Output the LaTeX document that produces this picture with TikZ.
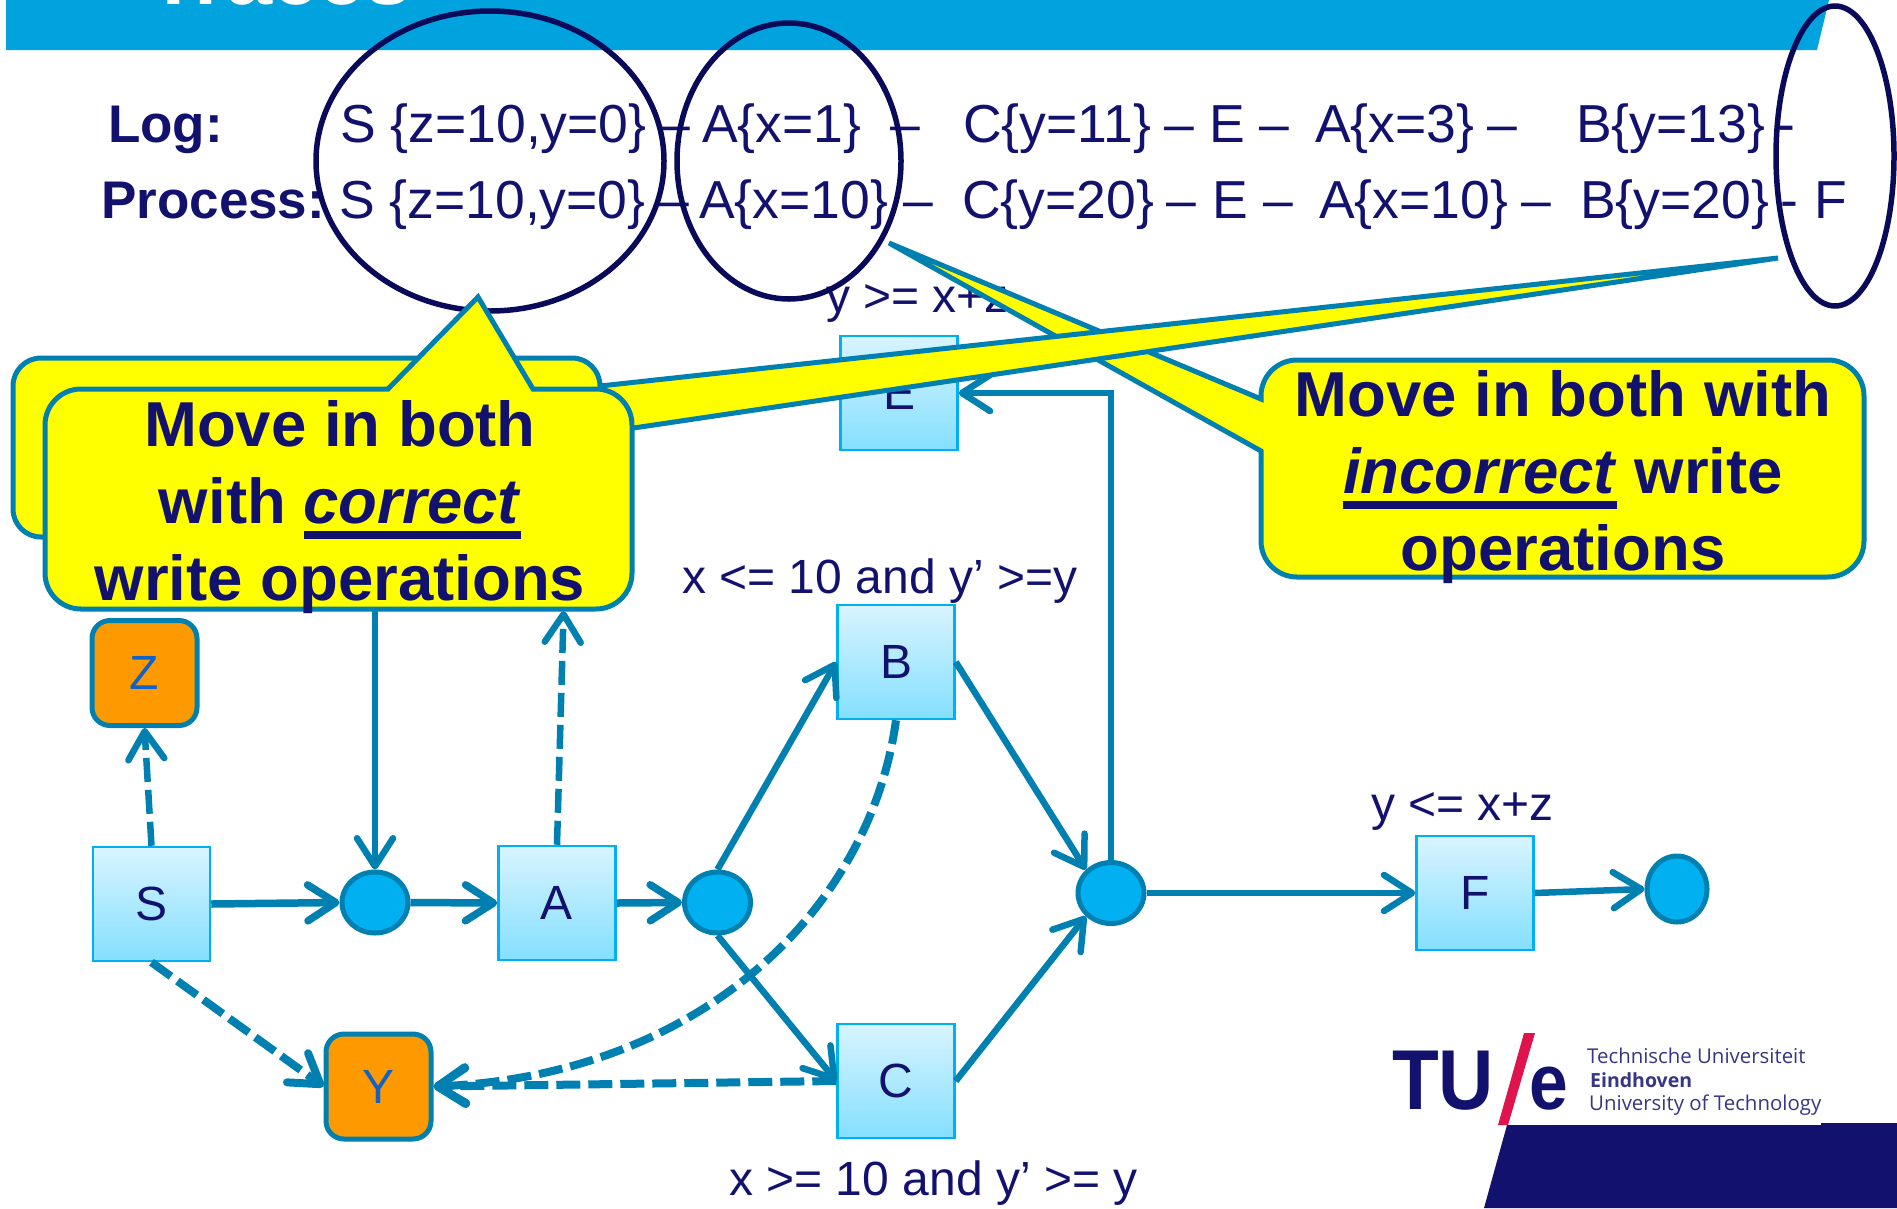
\documentclass[tikz,border=0pt]{standalone}
\usepackage{fontspec}
\setmainfont{Liberation Sans}
\newfontfamily\tuefont{Open Sans}
\usetikzlibrary{arrows.meta,shapes.geometric}
\definecolor{navy}{HTML}{12126E}
\definecolor{banner}{HTML}{00A3DE}
\definecolor{ringc}{HTML}{0A0A5A}
\definecolor{flow}{HTML}{0080B0}
\definecolor{dot}{HTML}{00B0F0}
\definecolor{boxtop}{HTML}{D8F4FF}
\definecolor{boxbot}{HTML}{84DFFF}
\definecolor{orangec}{HTML}{FF9900}
\definecolor{varc}{HTML}{0F62C8}
\definecolor{tuered}{HTML}{E0144C}
\definecolor{notefill}{RGB}{255,255,0}
\newcommand{\fatline}[1]{\setbox0\hbox{#1}\rlap{\rule[-.238em]{\wd0}{.12em}}\box0\relax}
\tikzset{
  tracetext/.style={anchor=base west, inner sep=0pt, text=navy, font=\fontsize{53.5}{60}\selectfont},
  headtext/.style={tracetext, font=\fontsize{53}{60}\selectfont\bfseries},
  guardtext/.style={anchor=base west, inner sep=0pt, text=navy, font=\fontsize{48}{50}\selectfont},
  actbox/.style={draw=dot, line width=2.5pt, top color=boxtop, bottom color=boxbot, minimum width=117pt, minimum height=114pt, inner sep=0pt, text=navy, font=\fontsize{48}{50}\selectfont},
  varbox/.style={draw=flow, line width=5pt, fill=orangec, rounded corners=18pt, minimum width=105pt, minimum height=105pt, inner sep=0pt, text=varc, font=\fontsize{48}{50}\selectfont},
  placedot/.style={draw=flow, line width=5pt, fill=dot, ellipse, inner sep=0pt},
  ring/.style={draw=ringc, line width=5.5pt},
  callout/.style={draw=flow, line width=5pt, fill=notefill},
  callouttext/.style={inner sep=0pt, align=center, text=navy, font=\fontsize{63.5}{77}\selectfont\bfseries},
  flowline/.style={draw=flow, line width=6.5pt, -{Straight Barb[length=28pt,width=36pt,round]}},
  readline/.style={flowline, dash pattern=on 24pt off 8pt},
  tuetext/.style={anchor=base west, inner sep=0pt, text=navy!85, font=\tuefont\fontsize{20.4}{22}\selectfont},
}
\begin{document}
\begin{tikzpicture}[x=1pt,y=-1pt]
\useasboundingbox (0,0) rectangle (1897,1208);
\fill[banner] (6,0) -- (1829,0) -- (1817,50) -- (6,50) -- cycle;
\node[anchor=base west, inner sep=0pt, text=white, font=\fontsize{83}{90}\selectfont\bfseries] (title) at (148,4) {Traces};

\node[headtext] (loghead) at (108,142) {Log:};
\node[headtext] (prochead) at (101,218) {Process:};
\foreach \px/\tx [count=\n] in {340/{S \{z=10,y=0\}},660/–,702/{A\{x=1\}},890/–,963/{C\{y=11\}},1164/–,1209/E,1259/–,1315/{A\{x=3\}},1487/–,1576/{B\{y=13\}},1777/-}
  \node[tracetext] (log\n) at (\px,142) {\tx};
\foreach \px/\tx [count=\n] in {339/{S \{z=10,y=0\}},659/–,699/{A\{x=10\}},903/–,962/{C\{y=20\}},1166/–,1212/E,1263/–,1319/{A\{x=10\}},1521/–,1580/{B\{y=20\}},1780/-,1814/F}
  \node[tracetext] (proc\n) at (\px,218) {\tx};

\node[actbox] (S) at (151.5,904) {S};
\node[actbox] (A) at (557,903) {A};
\node[actbox] (B) at (896,662) {B};
\node[actbox] (C) at (896,1081) {C};
\node[actbox] (E) at (899,393) {E};
\node[actbox] (F) at (1475,893) {F};
\node[varbox] (Z) at (144.5,673) {Z};
\node[varbox] (Y) at (378.5,1086.5) {Y};
\node[placedot, minimum width=66pt, minimum height=61pt] (p1) at (375,902.5) {};
\node[placedot, minimum width=66pt, minimum height=61pt] (p2) at (717.5,902.5) {};
\node[placedot, minimum width=66pt, minimum height=61pt] (p3) at (1111,893) {};
\node[placedot, minimum width=60pt, minimum height=66pt] (p4) at (1677,889) {};
\coordinate (upin) at (375,560);
\coordinate (upout) at (563.6,611);

\draw[flowline, line width=7.5pt] (S.east) -- (p1.west);
\draw[flowline, line width=7.5pt] (p1.east) -- (A.west);
\draw[flowline, line width=7.5pt] (A.east) -- (p2.west);
\draw[flowline] (p2.north) -- (B.west);
\draw[flowline] (p2.south) -- (C.west);
\draw[flowline] (B.east) -- (p3.north west);
\draw[flowline] (C.east) -- (p3.south west);
\draw[flowline] (p3.north) |- (E.east);
\draw[flowline] (p3.east) -- (F.west);
\draw[flowline] (F.east) -- (p4.west);
\draw[flowline] (upin) -- (p1.north);
\draw[readline] (S.north) -- (Z.south);
\draw[readline] (A.north) -- (upout);
\draw[readline, line width=8pt] (S.south) -- (Y.west);
\draw[readline, line width=8pt] (C.west) -- (Y.east);
\draw[readline, line width=8pt] (B.south) .. controls (870,910) and (700,1075) .. (Y.east);

\node[guardtext] (guarde) at (826,312) {y >= x+z};
\node[guardtext] (guardb) at (682,593) {x <= 10 and y’ >=y};
\node[guardtext] (guardc) at (729,1195) {x >= 10 and y’ >= y};
\node[guardtext] (guardf) at (1371,820) {y <= x+z};

\draw[ring] (490,161) ellipse [x radius=174, y radius=150];
\draw[ring] (789,161) ellipse [x radius=112, y radius=138];
\draw[ring] (1835,156) ellipse [x radius=59, y radius=150];

\draw[callout] (1261,451) [rounded corners=36pt] -- (1261,577) -- (1864,577) -- (1864,360) -- (1261,360) [sharp corners] -- (1261,399) -- (889,243) -- cycle;
\draw[callout] (600,433) [rounded corners=28pt] -- (600,537) -- (13,537) -- (13,358) -- (600,358) [sharp corners] -- (600,386) -- (1778,258) -- cycle;
\draw[callout] (533,389) [rounded corners=36pt] -- (632,389) -- (632,609) -- (45,609) -- (45,389) [sharp corners] -- (388,389) -- (478,297) -- cycle;
\node[callouttext] (rightnote) at (1563,477) {Move in both with\\\fatline{\textit{incorrect}} write\\operations};
\node[callouttext] (leftnote) at (340,507) {Move in both\\with \fatline{\textit{correct}}\\write operations};

\fill[navy] (1507,1125) -- (1821,1125) -- (1821,1123) -- (1897,1123) -- (1897,1208) -- (1484,1208) -- cycle;
\fill[tuered] (1524,1033) -- (1535,1033) -- (1508,1125) -- (1498,1125) -- cycle;
\node[anchor=base west, inner sep=0pt, text=navy, font=\fontsize{85}{90}\selectfont\bfseries] (tuname) at (1392,1109) {\scalebox{.9}[1]{TU}};
\node[anchor=base west, inner sep=0pt, text=navy, font=\fontsize{79}{90}\selectfont\bfseries] (tue) at (1529,1109) {\scalebox{.88}[1]{e}};
\node[tuetext] (tueline1) at (1587,1063) {Technische Universiteit};
\node[tuetext, font=\tuefont\fontsize{19.5}{22}\selectfont\bfseries] (tueline2) at (1590,1087) {Eindhoven};
\node[tuetext] (tueline3) at (1589,1110) {University of Technology};
\end{tikzpicture}
\end{document}
